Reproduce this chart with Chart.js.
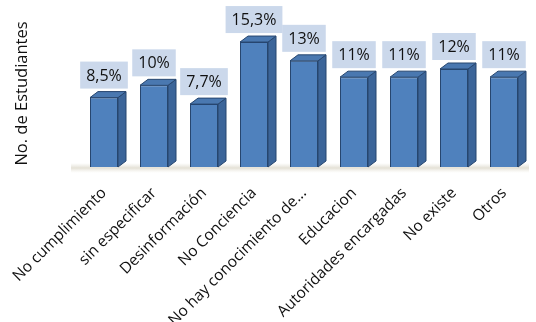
<!DOCTYPE html>
<html>
<head>
<meta charset="utf-8">
<script src="https://cdn.jsdelivr.net/npm/chart.js@4"></script>
<style>
  html, body { margin: 0; padding: 0; background: #fff; }
  #wrap { width: 536px; height: 322px; }
</style>
</head>
<body>
<div id="wrap"><canvas id="grafico"></canvas></div>
<script>
// datos
const categorias = ["No cumplimiento", "sin especificar", "Desinformación", "No Conciencia",
  "No hay conocimiento de...", "Educacion", "Autoridades encargadas", "No existe", "Otros"];
const porcentajes = [8.5, 10, 7.7, 15.3, 13, 11, 11, 12, 11];
const tituloY = "No. de Estudiantes";

const FUENTE = "'Open Sans', sans-serif";
const DX = 8, DY = 6; // profundidad del efecto 3D

function etiqueta(v) {
  return String(v).replace(".", ",") + "%";
}

// piso, caras laterales y cajas de etiqueta
const cubo3d = {
  id: "cubo3d",
  beforeDatasetsDraw(chart) {
    const { ctx, chartArea } = chart;
    const g = ctx.createLinearGradient(0, chartArea.bottom - 4, 0, chartArea.bottom + 6);
    g.addColorStop(0, "rgba(225,222,210,0)");
    g.addColorStop(0.5, "rgba(222,218,204,0.8)");
    g.addColorStop(1, "rgba(235,232,222,0)");
    ctx.save();
    ctx.fillStyle = g;
    ctx.fillRect(chartArea.left - 8, chartArea.bottom - 4, chartArea.width + 8, 10);
    ctx.restore();
  },
  afterDatasetsDraw(chart) {
    const ctx = chart.ctx;
    const meta = chart.getDatasetMeta(0);
    ctx.save();
    meta.data.forEach((bar, i) => {
      const l = bar.x - bar.width / 2, r = bar.x + bar.width / 2;
      const t = bar.y, b = bar.base;
      ctx.lineWidth = 1;
      ctx.strokeStyle = "#27466f";
      // lateral
      ctx.beginPath();
      ctx.moveTo(r, t);
      ctx.lineTo(r + DX, t - DY);
      ctx.lineTo(r + DX, b - DY);
      ctx.lineTo(r, b);
      ctx.closePath();
      ctx.fillStyle = "#3c6599";
      ctx.fill();
      ctx.stroke();
      // tapa
      ctx.beginPath();
      ctx.moveTo(l, t);
      ctx.lineTo(l + DX, t - DY);
      ctx.lineTo(r + DX, t - DY);
      ctx.lineTo(r, t);
      ctx.closePath();
      ctx.fillStyle = "#4a78b0";
      ctx.fill();
      ctx.stroke();

      // caja de etiqueta
      const txt = etiqueta(porcentajes[i]);
      ctx.font = "16px " + FUENTE;
      const w = ctx.measureText(txt).width + 12;
      const h = 27;
      const cx = bar.x;
      const by = t - DY - 3;
      ctx.fillStyle = "rgba(196,211,232,0.88)";
      ctx.fillRect(cx - w / 2, by - h, w, h);
      ctx.fillStyle = "#111";
      ctx.textAlign = "center";
      ctx.textBaseline = "middle";
      ctx.fillText(txt, cx, by - h / 2 + 1);
    });
    ctx.restore();
  }
};

new Chart(document.getElementById("grafico"), {
  type: "bar",
  data: {
    labels: categorias,
    datasets: [{
      data: porcentajes,
      backgroundColor(c) {
        const el = c.element;
        if (!el || !el.width) return "#4f81bd";
        const g = c.chart.ctx.createLinearGradient(el.x - el.width / 2, 0, el.x + el.width / 2, 0);
        g.addColorStop(0, "#3f6ea8");
        g.addColorStop(0.5, "#5b8ccb");
        g.addColorStop(1, "#4373ad");
        return g;
      },
      borderColor: "#27466f",
      borderWidth: 1,
      categoryPercentage: 1,
      barPercentage: 0.56
    }]
  },
  options: {
    responsive: true,
    maintainAspectRatio: false,
    animation: false,
    layout: { padding: { top: 20, left: 8, right: 7, bottom: 0 } },
    plugins: {
      legend: { display: false },
      tooltip: { enabled: false }
    },
    scales: {
      y: {
        min: 0,
        max: 18,
        afterFit(s) { s.width = 71; },
        ticks: { display: false },
        grid: { display: false },
        border: { display: false },
        title: {
          display: true,
          text: tituloY,
          color: "#111",
          font: { family: FUENTE, size: 16.5 }
        }
      },
      x: {
        afterFit(s) { s.height = 155; },
        grid: { display: false },
        border: { display: false },
        ticks: {
          color: "#111",
          minRotation: 45,
          maxRotation: 45,
          autoSkip: false,
          padding: 9,
          font: { family: FUENTE, size: 15.5 }
        }
      }
    }
  },
  plugins: [cubo3d]
});
</script>
</body>
</html>
